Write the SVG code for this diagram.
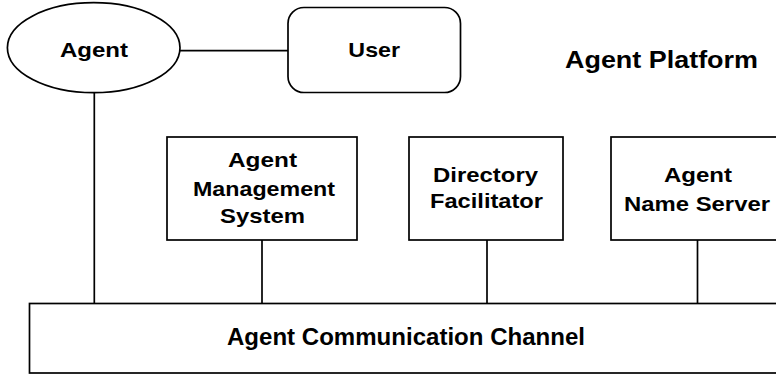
<svg xmlns="http://www.w3.org/2000/svg" width="776" height="374" viewBox="0 0 776 374">
  <style>
    .shape { fill: #ffffff; stroke: #000000; stroke-width: 1.7; }
    .wire { fill: none; stroke: #000000; stroke-width: 1.7; }
    .lbl { font-family: "Liberation Sans", Arial, sans-serif; font-weight: bold; font-size: 20.5px; fill: #000000; text-anchor: middle; }
    .big { font-size: 23px; }
  </style>
  <rect width="776" height="374" fill="#ffffff"/>

  <!-- connectors -->
  <g id="connectors">
    <line class="wire" x1="180" y1="50.7" x2="288" y2="50.7"/>
    <line class="wire" x1="94.3" y1="92.7" x2="94.3" y2="303.5"/>
    <line class="wire" x1="262" y1="240" x2="262" y2="303.5"/>
    <line class="wire" x1="487" y1="240" x2="487" y2="303.5"/>
    <line class="wire" x1="697.5" y1="240" x2="697.5" y2="303.5"/>
  </g>

  <g id="agent">
    <ellipse class="shape" cx="93.7" cy="47.7" rx="86.3" ry="45"/>
    <text class="lbl" x="94" y="57.3" textLength="68" lengthAdjust="spacingAndGlyphs">Agent</text>
  </g>

  <g id="user">
    <rect class="shape" x="288" y="7.5" width="172.5" height="85" rx="16" ry="16"/>
    <text class="lbl" x="374.2" y="57.3" textLength="51.7" lengthAdjust="spacingAndGlyphs">User</text>
  </g>

  <g id="platform-title">
    <text class="lbl big" x="661.5" y="68.3" textLength="193" lengthAdjust="spacingAndGlyphs">Agent Platform</text>
  </g>

  <g id="ams">
    <rect class="shape" x="167" y="137" width="190" height="103"/>
    <text class="lbl" x="262.5" y="167.3" textLength="69" lengthAdjust="spacingAndGlyphs">Agent</text>
    <text class="lbl" x="264" y="195.5" textLength="142" lengthAdjust="spacingAndGlyphs">Management</text>
    <text class="lbl" x="262.5" y="223" textLength="85" lengthAdjust="spacingAndGlyphs">System</text>
  </g>

  <g id="df">
    <rect class="shape" x="409" y="137" width="154" height="103"/>
    <text class="lbl" x="485.5" y="181.7" textLength="105" lengthAdjust="spacingAndGlyphs">Directory</text>
    <text class="lbl" x="486.5" y="208" textLength="113" lengthAdjust="spacingAndGlyphs">Facilitator</text>
  </g>

  <g id="ans">
    <rect class="shape" x="611" y="137" width="175" height="103"/>
    <text class="lbl" x="698" y="182.3" textLength="68" lengthAdjust="spacingAndGlyphs">Agent</text>
    <text class="lbl" x="697" y="210.5" textLength="146" lengthAdjust="spacingAndGlyphs">Name Server</text>
  </g>

  <g id="acc">
    <rect class="shape" x="29.5" y="303.5" width="760" height="69.5"/>
    <text class="lbl big" x="406" y="345" textLength="358" lengthAdjust="spacingAndGlyphs">Agent Communication Channel</text>
  </g>
</svg>
